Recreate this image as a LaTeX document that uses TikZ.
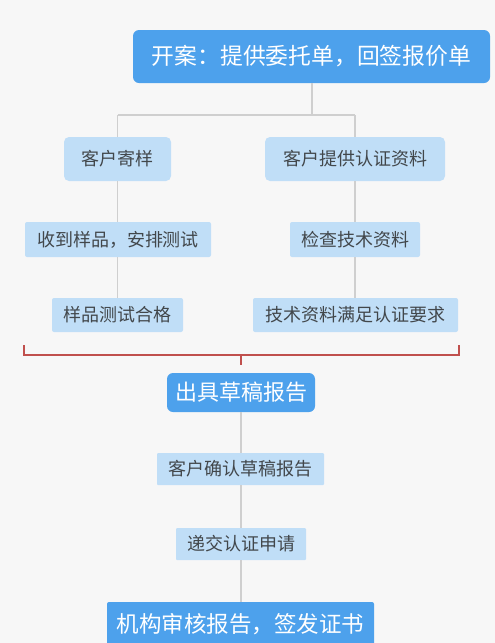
\documentclass[tikz,border=0pt]{standalone}
\usepackage{fontspec}
\setmainfont{Noto Sans CJK SC}
\definecolor{bg}{HTML}{F7F7F7}
\definecolor{dblue}{HTML}{4DA1EC}
\definecolor{lblue}{HTML}{C0DEF7}
\definecolor{lgray}{HTML}{CFCFCF}
\definecolor{bred}{HTML}{C0504D}
\definecolor{txt}{HTML}{42474B}
\begin{document}
\begin{tikzpicture}[x=1pt,y=-1pt,
  darkbox/.style={fill=dblue,text=white,rounded corners=6pt,inner sep=0pt,align=center},
  lightbox/.style={fill=lblue,text=txt,rounded corners=2pt,inner sep=0pt,font=\fontsize{18}{20}\selectfont,align=center},
  conn/.style={draw=lgray,line width=1.2pt},
  brack/.style={draw=bred,line width=1.2pt}]
\useasboundingbox (0,0) rectangle (495,643);
\fill[bg] (0,0) rectangle (495,643);
\node[darkbox,minimum width=357pt,minimum height=53pt,font=\fontsize{22.8}{25}\selectfont] (top) at (311.5,56.5) {开案：提供委托单，回签报价单};
\node[lightbox,rounded corners=5pt,minimum width=107pt,minimum height=44pt] (ji) at (117.5,159) {客户寄样};
\node[lightbox,rounded corners=5pt,minimum width=180pt,minimum height=44pt] (ti) at (355,159) {客户提供认证资料};
\node[lightbox,minimum width=186pt,minimum height=35pt] (sd) at (118,239.5) {收到样品，安排测试};
\node[lightbox,minimum width=130pt,minimum height=35pt] (jc) at (355,239.5) {检查技术资料};
\node[lightbox,minimum width=131pt,minimum height=34pt] (yp) at (117.5,315) {样品测试合格};
\node[lightbox,minimum width=205pt,minimum height=34pt] (js) at (355.5,315) {技术资料满足认证要求};
\node[darkbox,minimum width=148pt,minimum height=39pt,font=\fontsize{22}{24}\selectfont] (cj) at (241,392.5) {出具草稿报告};
\node[lightbox,rounded corners=1pt,minimum width=167pt,minimum height=32pt] (kh) at (240.5,469) {客户确认草稿报告};
\node[lightbox,rounded corners=1pt,minimum width=130pt,minimum height=32pt] (dj) at (241,544) {递交认证申请};
\node[darkbox,rounded corners=2pt,minimum width=267pt,minimum height=44pt,font=\fontsize{22.5}{24}\selectfont] (jg) at (240.5,624) {机构审核报告，签发证书};
% top connectors
\coordinate (tsplit) at (312,115);
\coordinate (tl) at (117.5,115);
\coordinate (tr) at (355,115);
\draw[conn] (top.south -| tsplit) -- (tsplit);
\draw[conn] (tl) -- (tr);
\draw[conn] (tl) -- (ji.north);
\draw[conn] (tr) -- (ti.north);
\draw[conn] (ji.south) -- (sd.north -| ji.south);
\draw[conn] (ti.south) -- (jc.north -| ti.south);
\draw[conn] (sd.south -| ji.south) -- (yp.north);
\draw[conn] (jc.south -| ti.south) -- (js.north -| ti.south);
% bracket
\coordinate (bl) at (24,345);
\coordinate (blb) at (24,355);
\coordinate (brb) at (459,355);
\coordinate (br) at (459,345);
\coordinate (bm) at (241,355);
\coordinate (bmd) at (241,365);
\draw[brack] (bl) -- (blb) -- (brb) -- (br);
\draw[brack] (bm) -- (bmd);
% lower connectors
\draw[conn] (cj.south) -- (kh.north -| cj.south);
\draw[conn] (kh.south -| cj.south) -- (dj.north);
\draw[conn] (dj.south) -- (jg.north -| dj.south);
\end{tikzpicture}
\end{document}
